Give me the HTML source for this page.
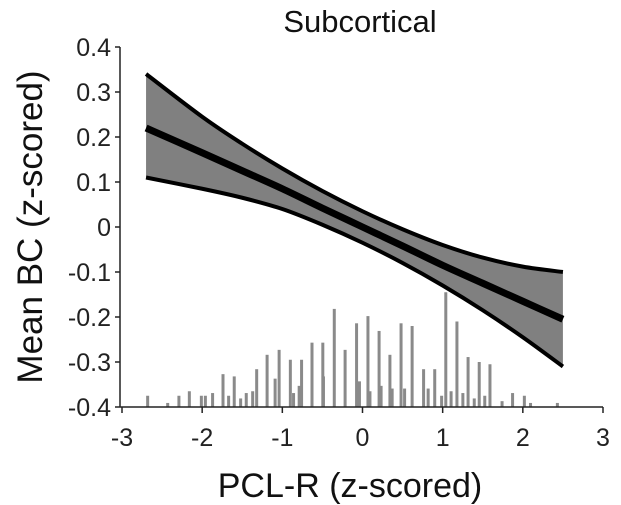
<!DOCTYPE html>
<html><head><meta charset="utf-8"><style>
html,body{margin:0;padding:0;background:#fff;}
svg{display:block;font-family:"Liberation Sans",Arial,sans-serif;}
</style></head><body>
<svg id="chart" width="621" height="505" viewBox="0 0 621 505">
<text x="360" y="32" font-size="31" text-anchor="middle" fill="#111">Subcortical</text>
<text transform="translate(42,227) rotate(-90)" font-size="35" text-anchor="middle" fill="#111">Mean BC (z-scored)</text>
<text x="350" y="497" font-size="34" text-anchor="middle" fill="#111">PCL-R (z-scored)</text>
<g id="hist"></g>
<g id="band"></g>
<g id="axes"></g>
</svg>
<script>
const xTicks = [-3,-2,-1,0,1,2,3];
const yTicks = [0.4,0.3,0.2,0.1,0,-0.1,-0.2,-0.3,-0.4];
const yTickLabels = ["0.4","0.3","0.2","0.1","0","-0.1","-0.2","-0.3","-0.4"];
const fitX = [-2.7,-2,-1.5,-1,-0.5,0,0.5,1,1.5,2,2.5];
const fitMean = [0.22,0.165,0.125,0.085,0.042,0,-0.042,-0.085,-0.125,-0.165,-0.205];
const fitUpper = [0.34,0.245,0.185,0.13,0.08,0.035,-0.005,-0.04,-0.068,-0.088,-0.10];
const fitLower = [0.11,0.085,0.065,0.04,0.005,-0.035,-0.08,-0.13,-0.185,-0.245,-0.31];
const histX = [-2.68,-2.43,-2.29,-2.16,-2.01,-1.96,-1.87,-1.74,-1.67,-1.60,-1.52,-1.45,-1.37,-1.32,-1.19,-1.09,-1.04,-0.90,-0.86,-0.79,-0.76,-0.63,-0.495,-0.487,-0.352,-0.217,-0.074,-0.038,0.068,0.093,0.207,0.232,0.342,0.370,0.481,0.525,0.619,0.762,0.819,0.901,0.987,1.039,1.105,1.178,1.252,1.317,1.394,1.456,1.525,1.590,1.741,1.872,2.019,2.096,2.431];
const histH = [0.025,0.009,0.025,0.035,0.025,0.025,0.031,0.073,0.025,0.068,0.019,0.031,0.035,0.084,0.116,0.063,0.127,0.105,0.031,0.047,0.105,0.143,0.143,0.068,0.218,0.127,0.186,0.057,0.202,0.035,0.169,0.047,0.116,0.041,0.186,0.041,0.18,0.084,0.041,0.084,0.025,0.255,0.035,0.19,0.031,0.111,0.019,0.1,0.025,0.095,0.013,0.031,0.025,0.009,0.009];

const NS="http://www.w3.org/2000/svg";
const X0=122,X1=603,Y0=407,Y1=47;
const sx=v=>X0+(v+3)/6*(X1-X0);
const sy=v=>Y0-(v+0.4)/0.8*(Y0-Y1);
function mk(tag,attrs,parent){const e=document.createElementNS(NS,tag);for(const k in attrs)e.setAttribute(k,attrs[k]);parent.appendChild(e);return e;}
function smooth(xs,ys){
  const p=xs.map((x,i)=>[sx(x),sy(ys[i])]);
  let d="M"+p[0][0]+","+p[0][1];
  for(let i=0;i<p.length-1;i++){
    const p0=p[i-1]||p[i],p1=p[i],p2=p[i+1],p3=p[i+2]||p2;
    const c1=[p1[0]+(p2[0]-p0[0])/6,p1[1]+(p2[1]-p0[1])/6];
    const c2=[p2[0]-(p3[0]-p1[0])/6,p2[1]-(p3[1]-p1[1])/6];
    d+=" C"+c1[0]+","+c1[1]+" "+c2[0]+","+c2[1]+" "+p2[0]+","+p2[1];
  }
  return d;
}
const hist=document.getElementById('hist');
histX.forEach((x,i)=>{
  const r=mk('rect',{x:sx(x)-1.5,y:sy(-0.4+histH[i]),width:3,height:sy(-0.4)-sy(-0.4+histH[i]),fill:'#8a8a8a'},hist);
  
  
});
const band=document.getElementById('band');
const up=smooth(fitX,fitUpper);
const lowRevX=fitX.slice().reverse(),lowRevY=fitLower.slice().reverse();
const lo=smooth(lowRevX,lowRevY).replace(/^M/,"L");
const area=mk('path',{d:up+" "+lo+" Z",fill:'#808080',stroke:'none'},band);


const u=mk('path',{d:up,fill:'none',stroke:'#000','stroke-width':4},band);


const l=mk('path',{d:smooth(fitX,fitLower),fill:'none',stroke:'#000','stroke-width':4},band);


const m=mk('path',{d:smooth(fitX,fitMean),fill:'none',stroke:'#000','stroke-width':7},band);


const axes=document.getElementById('axes');
const ya=mk('line',{x1:120,y1:Y1,x2:120,y2:Y0,stroke:'#222','stroke-width':1.5},axes);


const xa=mk('line',{x1:120,y1:Y0,x2:X1,y2:Y0,stroke:'#222','stroke-width':1.5},axes);


yTicks.forEach((v,i)=>{
  mk('line',{x1:115,y1:sy(v),x2:120,y2:sy(v),stroke:'#222','stroke-width':1.5},axes);
  const t=mk('text',{x:111,y:sy(v)+9,'font-size':25,'text-anchor':'end',fill:'#222'},axes);
  t.textContent=yTickLabels[i];
  
  
});
xTicks.forEach(v=>{
  mk('line',{x1:sx(v),y1:Y0,x2:sx(v),y2:Y0+6,stroke:'#222','stroke-width':1.5},axes);
  const t=mk('text',{x:sx(v),y:446,'font-size':25,'text-anchor':'middle',fill:'#222'},axes);
  t.textContent=String(v);
  
  
});
</script>
</body></html>
